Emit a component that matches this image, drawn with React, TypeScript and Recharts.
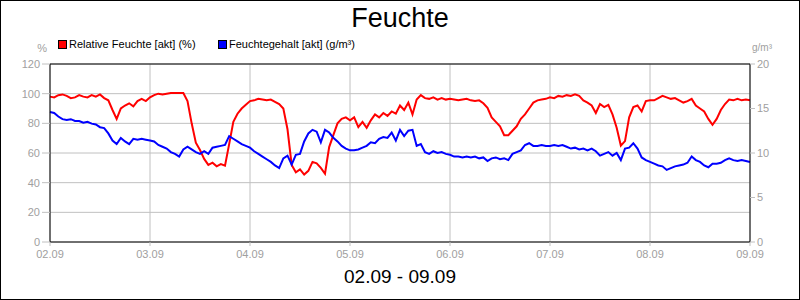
import { LineChart, Line, XAxis, YAxis, CartesianGrid, ReferenceLine } from 'recharts';

// hours since 02.09 00:00, one reading per hour
const hours = Array.from({ length: 169 }, (_v, i) => i);

const dayLabels = ['02.09', '03.09', '04.09', '05.09', '06.09', '07.09', '08.09', '09.09'];
const dayTicks = [0, 24, 48, 72, 96, 120, 144, 168];
const leftTicks = [0, 20, 40, 60, 80, 100, 120];
const rightTicks = [0, 5, 10, 15, 20];

// Relative Feuchte [akt] (%)
const relFeuchte = [
  98, 97.5, 99, 99.5, 98.5, 97, 97.5, 99, 98, 97.5, 99, 98, 99.5, 97, 95.5, 89, 83, 90, 92, 93.5, 91.5, 95, 96.5, 95, 97.5,
  99, 100, 99.5, 100, 100.5, 100.5, 100.5, 100.5, 95, 80, 67, 62, 56, 52, 53.5, 51, 52.5, 51.5, 66, 81, 86.5, 90, 92.5, 95,
  95.5, 96.5, 96, 95.5, 96, 94.5, 93, 90, 76, 52, 47, 49, 45.5, 48, 54, 53, 50, 46, 64, 72, 80, 83, 84, 82,
  84, 77.5, 81, 77, 82, 86, 84, 87, 85, 88, 86.5, 92, 89, 94, 86, 96, 99, 97, 96.5, 97.5, 96, 97, 96, 96.5,
  96, 95.5, 96, 96.5, 95.5, 95, 95.5, 93.5, 90.5, 84, 81, 78, 72, 72, 75, 78, 83, 86, 90, 94, 95.5, 96, 96.5, 97.5,
  97, 98.5, 98, 99, 98.5, 99.5, 98.5, 95.5, 94, 92, 87, 93, 91, 92.5, 86, 77, 65, 68, 84, 91, 92, 88, 95, 95.5,
  95.5, 97, 98.5, 97.5, 96.5, 97, 95.5, 94, 95, 96.5, 92, 90, 88, 83, 79, 83, 89, 93, 96, 95.5, 96.5, 95.5, 96, 95.5,
];

// Feuchtegehalt [akt] (g/m³)
const feuchtegehalt = [
  14.6, 14.5, 14.1, 13.8, 13.7, 13.8, 13.6, 13.6, 13.4, 13.5, 13.3, 13.2, 12.9, 12.8, 12.2, 11.4, 11.0, 11.7, 11.3, 11.0, 11.6, 11.5, 11.6, 11.5, 11.4,
  11.3, 10.9, 10.7, 10.5, 10.1, 9.9, 9.6, 10.4, 10.7, 10.4, 10.1, 9.9, 10.2, 9.9, 10.6, 10.7, 10.8, 10.9, 11.9, 11.6, 11.3, 11.0, 10.8, 10.6,
  10.2, 9.9, 9.6, 9.3, 9.0, 8.6, 8.3, 9.4, 9.7, 8.7, 9.8, 9.9, 11.3, 12.2, 12.6, 12.4, 11.2, 12.6, 12.3, 11.7, 11.3, 10.8, 10.5, 10.3,
  10.3, 10.4, 10.6, 10.8, 11.2, 11.1, 11.6, 11.8, 11.7, 12.3, 11.4, 12.6, 11.9, 12.5, 12.6, 10.8, 11.0, 10.1, 9.9, 10.2, 10.0, 10.1, 9.9, 9.8,
  9.6, 9.6, 9.5, 9.6, 9.5, 9.6, 9.4, 9.5, 9.1, 9.4, 9.5, 9.3, 9.4, 9.2, 9.9, 10.1, 10.3, 10.9, 11.1, 10.8, 10.8, 10.9, 10.8, 10.8,
  10.9, 10.8, 10.9, 10.7, 10.5, 10.6, 10.4, 10.5, 10.3, 10.5, 10.2, 9.7, 9.9, 10.1, 9.7, 10.0, 9.2, 10.5, 10.6, 11.1, 10.5, 9.5, 9.2, 9.0,
  8.8, 8.6, 8.5, 8.1, 8.3, 8.5, 8.6, 8.7, 8.9, 9.6, 9.2, 9.0, 8.6, 8.4, 8.8, 8.8, 8.9, 9.2, 9.4, 9.2, 9.1, 9.2, 9.1, 9.0,
];

const data = hours.map((h, i) => ({ h, rel: relFeuchte[i], abs: feuchtegehalt[i] }));

const FONT = '"Liberation Sans", Arial, sans-serif';
const GREY_TEXT = '#a0a0a0';
const GRID = '#c0c0c0';

export default function App() {
  const tick = { fill: GREY_TEXT, fontSize: 11, fontFamily: FONT };
  return (
    <div style={{ position: 'absolute', top: 0, left: 0, width: 800, height: 300, background: '#fff' }}>
      <LineChart width={800} height={300} data={data} margin={{ top: 64, right: 0, bottom: 38, left: 0 }}>
        <CartesianGrid yAxisId="left" stroke={GRID} strokeWidth={1} />
        <XAxis
          dataKey="h"
          type="number"
          domain={[0, 168]}
          ticks={dayTicks}
          tickFormatter={(v: number) => dayLabels[dayTicks.indexOf(v)]}
          height={20}
          tick={tick}
          tickSize={4}
          tickMargin={4}
          axisLine={{ stroke: '#000' }}
          tickLine={{ stroke: GRID }}
        />
        <YAxis
          yAxisId="left"
          domain={[0, 120]}
          ticks={leftTicks}
          width={50}
          tick={tick}
          tickSize={8}
          tickMargin={2}
          axisLine={{ stroke: '#000' }}
          tickLine={{ stroke: GRID }}
        />
        <YAxis
          yAxisId="right"
          orientation="right"
          domain={[0, 20]}
          ticks={rightTicks}
          width={50}
          tick={{ ...tick, textAnchor: 'start' }}
          tickSize={5}
          tickMargin={2}
          axisLine={{ stroke: '#000' }}
          tickLine={{ stroke: GRID }}
        />
        <ReferenceLine yAxisId="left" y={120} stroke="#000" />
        <Line yAxisId="left" type="linear" dataKey="rel" stroke="#ff0000" strokeWidth={2} dot={false} isAnimationActive={false} />
        <Line yAxisId="right" type="linear" dataKey="abs" stroke="#0000ff" strokeWidth={2} dot={false} isAnimationActive={false} />
      </LineChart>

      <svg width={800} height={300} style={{ position: 'absolute', top: 0, left: 0, pointerEvents: 'none' }}>
        <text x={400} y={27} textAnchor="middle" fontSize={27} fontFamily={FONT} fill="#000">Feuchte</text>
        <rect x={58.5} y={40.5} width={8} height={8} fill="#ff0000" stroke="#000" />
        <text x={69} y={48} fontSize={11} fontFamily={FONT} fill="#000">Relative Feuchte [akt] (%)</text>
        <rect x={218.5} y={40.5} width={8} height={8} fill="#0000ff" stroke="#000" />
        <text x={229} y={48} fontSize={11} fontFamily={FONT} fill="#000">Feuchtegehalt [akt] (g/m³)</text>
        <text x={47} y={52} textAnchor="end" fontSize={11} fontFamily={FONT} fill={GREY_TEXT}>%</text>
        <text x={752} y={51} fontSize={10} fontFamily={FONT} fill={GREY_TEXT}>g/m³</text>
        <text x={400} y={283} textAnchor="middle" fontSize={19} fontFamily={FONT} fill="#000">02.09 - 09.09</text>
        <rect x={0.5} y={0.5} width={799} height={299} fill="none" stroke="#000" />
      </svg>
    </div>
  );
}
